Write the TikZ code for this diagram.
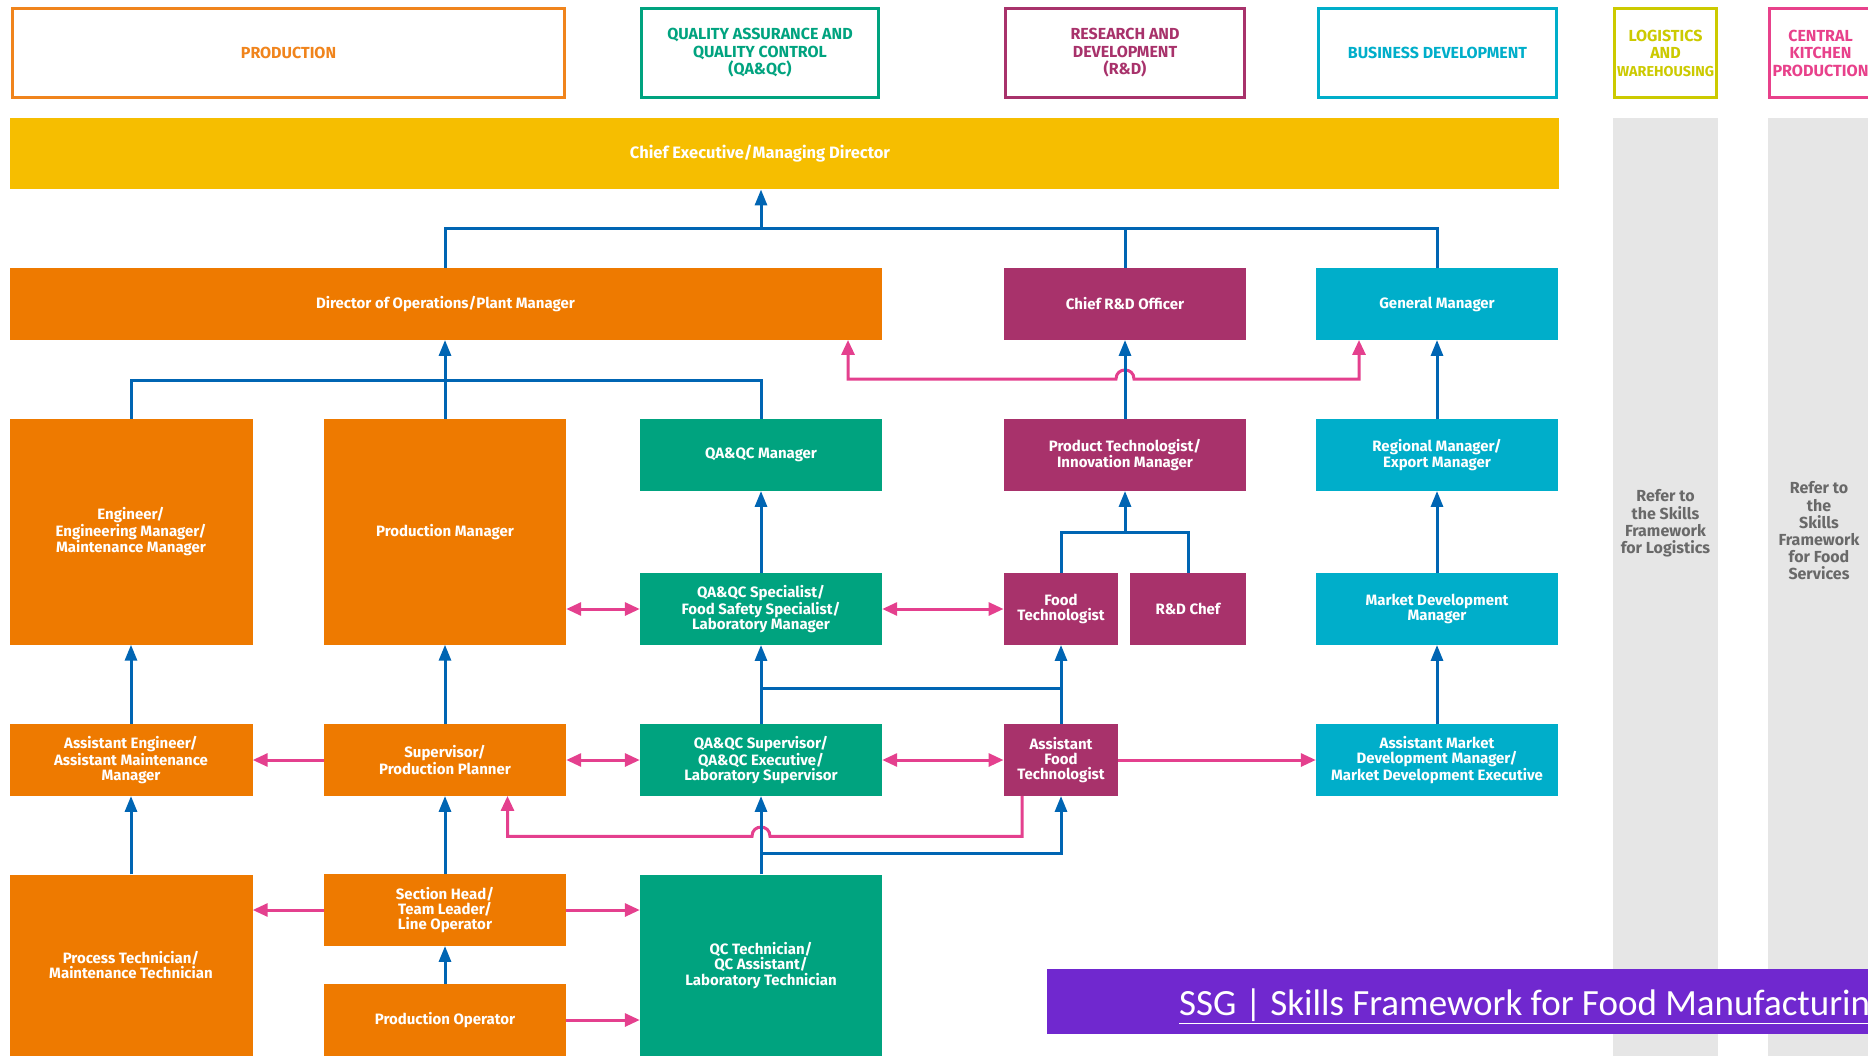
\documentclass[tikz,border=0pt]{standalone}
\usepackage{fontspec}
\setmainfont{Fira Sans}
\newfontfamily\bannerfont{Carlito}
\usetikzlibrary{arrows.meta}

\definecolor{prodOrange}{RGB}{238,122,0}
\definecolor{prodLine}{RGB}{240,132,28}
\definecolor{qaGreen}{RGB}{0,163,127}
\definecolor{rdPurple}{RGB}{168,50,107}
\definecolor{bizCyan}{RGB}{0,174,202}
\definecolor{ceoYellow}{RGB}{246,190,0}
\definecolor{linkBlue}{RGB}{0,101,179}
\definecolor{linkPink}{RGB}{228,64,142}
\definecolor{panelGrey}{RGB}{230,230,230}
\definecolor{logiLime}{RGB}{204,202,0}
\definecolor{kitchenPink}{RGB}{232,65,139}
\definecolor{bannerPurple}{RGB}{112,40,207}
\definecolor{referGrey}{RGB}{105,105,105}

\tikzset{
  role/.style={draw=none, inner sep=0pt, align=center, text=white,
    minimum width=242pt, minimum height=71.5pt,
    font=\bfseries\fontsize{15}{15.3}\selectfont},
  head/.style={line width=3pt, fill=white, inner sep=0pt, align=center,
    minimum height=89pt, font=\bfseries\fontsize{16}{17.5}\selectfont},
  refer/.style={align=center, text=referGrey, inner sep=0pt,
    font=\bfseries\fontsize{16}{17.2}\selectfont},
  blueline/.style={draw=linkBlue, line width=3pt},
  bluearrow/.style={blueline, -{Triangle[width=12pt,length=16pt]}},
  pinkline/.style={draw=linkPink, line width=3pt},
  pinkarrow/.style={pinkline, -{Triangle[width=13pt,length=15pt]}},
  pinkboth/.style={pinkline, {Triangle[width=13pt,length=15pt]}-{Triangle[width=13pt,length=15pt]}}
}

\begin{document}
\begin{tikzpicture}[x=1pt,y=-1pt]
\useasboundingbox (0,0) rectangle (1868,1056);
\clip (0,0) rectangle (1868,1056);

% side panels for the sectors covered by other frameworks
\fill[panelGrey] (1613,118) rectangle (1718,1060);
\fill[panelGrey] (1768,118) rectangle (1873,1060);

% sector headers
\node[head, draw=prodLine, text=prodLine, minimum width=552pt] (hProd) at (288.5,53) {PRODUCTION};
\node[head, draw=qaGreen, text=qaGreen, minimum width=237pt] (hQA) at (760,53) {QUALITY ASSURANCE AND\\QUALITY CONTROL\\(QA\&QC)};
\node[head, draw=rdPurple, text=rdPurple, minimum width=239pt] (hRD) at (1125,53) {RESEARCH AND\\DEVELOPMENT\\(R\&D)};
\node[head, draw=bizCyan, text=bizCyan, minimum width=238pt] (hBiz) at (1437.5,53) {BUSINESS DEVELOPMENT};
\node[head, draw=logiLime, text=logiLime, minimum width=102pt] (hLog) at (1665.5,53) {LOGISTICS\\AND\\\resizebox{97pt}{!}{WAREHOUSING}};
\node[head, draw=kitchenPink, text=kitchenPink, minimum width=102pt] (hKit) at (1820.5,53) {CENTRAL\\KITCHEN\\\resizebox{96pt}{!}{PRODUCTION}};

\node[refer] (refLog) at (1665.5,523.5) {Refer to\\the Skills\\Framework\\for Logistics};
\node[refer] (refKit) at (1819,531) {Refer to\\the\\Skills\\Framework\\for Food\\Services};

% top level
\node[role, fill=ceoYellow, minimum width=1549pt] (ceo) at (784,153.5) {};
\node[role, font=\bfseries\fontsize{16.5}{18}\selectfont] (ceoText) at (760,153.5) {Chief Executive/Managing Director};

% second level
\node[role, fill=prodOrange, minimum width=872pt] (dir) at (445.5,304) {Director of Operations/Plant Manager};
\node[role, fill=rdPurple] (rdchief) at (1125,304) {Chief R\&D Officer};
\node[role, fill=bizCyan] (gm) at (1437,304) {General Manager};

% third level
\node[role, fill=prodOrange, minimum height=225.5pt, minimum width=243pt] (eng) at (131,531.75) {Engineer/\\Engineering Manager/\\Maintenance Manager};
\node[role, fill=prodOrange, minimum height=225.5pt] (pm) at (445,531.75) {Production Manager};
\node[role, fill=qaGreen] (qam) at (761,455) {QA\&QC Manager};
\node[role, fill=rdPurple] (ptm) at (1125,455) {Product Technologist/\\Innovation Manager};
\node[role, fill=bizCyan] (rm) at (1437,455) {Regional Manager/\\Export Manager};

% fourth level
\node[role, fill=qaGreen] (qas) at (761,609) {QA\&QC Specialist/\\Food Safety Specialist/\\Laboratory Manager};
\node[role, fill=rdPurple, minimum width=114.5pt] (ft) at (1061,609) {Food\\Technologist};
\node[role, fill=rdPurple, minimum width=115.5pt] (chef) at (1188,609) {R\&D Chef};
\node[role, fill=bizCyan] (mdm) at (1437,609) {Market Development\\Manager};

% fifth level
\node[role, fill=prodOrange, minimum width=243pt] (aeng) at (131,760) {Assistant Engineer/\\Assistant Maintenance\\Manager};
\node[role, fill=prodOrange] (sup) at (445,760) {Supervisor/\\Production Planner};
\node[role, fill=qaGreen] (qasup) at (761,760) {QA\&QC Supervisor/\\QA\&QC Executive/\\Laboratory Supervisor};
\node[role, fill=rdPurple, minimum width=114.5pt] (aft) at (1061,760) {Assistant\\Food\\Technologist};
\node[role, fill=bizCyan] (amd) at (1437,760) {Assistant Market\\Development Manager/\\Market Development Executive};

% sixth level
\node[role, fill=prodOrange, minimum width=243pt, minimum height=181.5pt] (ptech) at (131,965.25) {Process Technician/\\Maintenance Technician};
\node[role, fill=prodOrange] (sh) at (445,910) {Section Head/\\Team Leader/\\Line Operator};
\node[role, fill=prodOrange, minimum height=72pt] (po) at (445,1020) {Production Operator};
\node[role, fill=qaGreen, minimum height=181.5pt] (qct) at (761,965.25) {QC Technician/\\QC Assistant/\\Laboratory Technician};

% reporting lines to the top
\coordinate (topbus) at (761,228.7);
\draw[blueline] (dir.north -| pm.north) |- (topbus) -| (gm.north);
\draw[blueline] (rdchief.north) -- (rdchief.north |- topbus);
\draw[bluearrow] (topbus) -- (ceo.south -| topbus);

% reporting lines to the director
\coordinate (opsbus) at (445,380);
\draw[blueline] (eng.north) |- (opsbus) -| (qam.north);
\draw[bluearrow] (pm.north) -- (dir.south -| pm.north);

% link between operations and general management
\coordinate (pk1) at (848,379);
\coordinate (pk2) at (1359,379);
\draw[pinkboth] (dir.south -| pk1) -- (pk1) -- (1116,379)
  .. controls (1116,367) and (1134,367) .. (1134,379) -- (pk2) -- (gm.south -| pk2);

\draw[bluearrow] (ptm.north) -- (rdchief.south);
\draw[bluearrow] (rm.north) -- (gm.south);

% fourth to third level
\draw[bluearrow] (qas.north) -- (qam.south);
\coordinate (rdbus) at (1125,532.5);
\draw[blueline] (ft.north) |- (rdbus) -| (chef.north);
\draw[bluearrow] (rdbus) -- (ptm.south);
\draw[bluearrow] (mdm.north) -- (rm.south);
\draw[pinkboth] (pm.east |- qas.west) -- (qas.west);
\draw[pinkboth] (qas.east) -- (ft.west);

% fifth to fourth level
\draw[bluearrow] (aeng.north) -- (eng.south);
\draw[bluearrow] (sup.north) -- (pm.south);
\draw[bluearrow] (qasup.north) -- (qas.south);
\coordinate (qabus) at (761,688.6);
\draw[blueline] (qabus) -- (qabus -| aft.north);
\draw[bluearrow] (aft.north) -- (ft.south);
\draw[bluearrow] (amd.north) -- (mdm.south);
\draw[pinkarrow] (sup.west) -- (aeng.east);
\draw[pinkboth] (sup.east) -- (qasup.west);
\draw[pinkboth] (qasup.east) -- (aft.west);
\draw[pinkarrow] (aft.east) -- (amd.west);

% assistant food technologist back to the supervisor
\coordinate (lp1) at (1022,836.3);
\coordinate (lp2) at (507.5,836.3);
\draw[pinkarrow] (aft.south -| lp1) -- (lp1) -- (770,836.3)
  .. controls (770,824) and (752,824) .. (752,836.3) -- (lp2) -- (sup.south -| lp2);

% sixth to fifth level
\draw[bluearrow] (qct.north) -- (qasup.south);
\coordinate (qcbus) at (761,853);
\draw[bluearrow] (qcbus) -| (aft.south);
\draw[bluearrow] (ptech.north) -- (aeng.south);
\draw[bluearrow] (sh.north) -- (sup.south);
\draw[bluearrow] (po.north) -- (sh.south);
\draw[pinkarrow] (sh.west) -- (ptech.east |- sh.west);
\draw[pinkarrow] (sh.east) -- (qct.west |- sh.east);
\draw[pinkarrow] (po.east) -- (qct.west |- po.east);

% source banner
\fill[bannerPurple] (1047,968.5) rectangle (1880,1034);
\node[anchor=base west, inner sep=0pt, text=white, font=\bannerfont\fontsize{37}{40}\selectfont] (src) at (1179,1015) {\underline{SSG | Skills Framework for Food Manufacturing}};
\end{tikzpicture}
\end{document}
